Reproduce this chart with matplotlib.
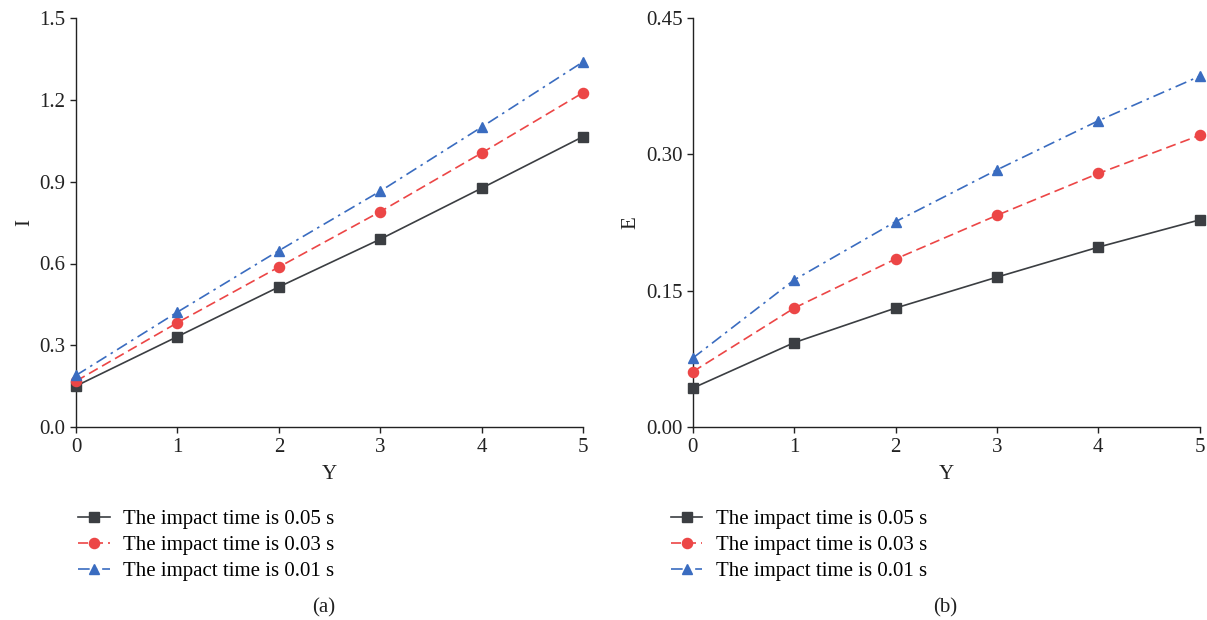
import matplotlib
matplotlib.use("Agg")
from matplotlib import pyplot as plt

plt.rcParams['font.family'] = ['Liberation Serif', 'DejaVu Serif']
plt.rcParams['mathtext.fontset'] = 'stix'

# Y values shared by both panels
y_vals = [0, 1, 2, 3, 4, 5]
labels = ['The impact time is 0.05 s',
          'The impact time is 0.03 s',
          'The impact time is 0.01 s']

# panel (a): I
i_005 = [0.151, 0.332, 0.514, 0.689, 0.876, 1.065]
i_003 = [0.169, 0.383, 0.587, 0.790, 1.005, 1.226]
i_001 = [0.190, 0.422, 0.647, 0.865, 1.100, 1.339]

# panel (b): E
e_005 = [0.043, 0.093, 0.131, 0.165, 0.198, 0.228]
e_003 = [0.061, 0.131, 0.185, 0.233, 0.279, 0.321]
e_001 = [0.076, 0.162, 0.226, 0.283, 0.337, 0.386]

colors = ['#3b3e42', '#ec4646', '#3a6cc0']
styles = ['-', (0, (6, 3)), (0, (7, 3, 1.5, 3))]
markers = ['s', 'o', '^']

fig = plt.figure(figsize=(12.07, 6.2), dpi=100)
ax1 = fig.add_axes([0.063, 0.311, 0.420, 0.660])
ax2 = fig.add_axes([0.574, 0.311, 0.420, 0.660])


def draw_panel(ax, series, ylabel, yticks, yfmt):
    for vals, c, ls, m, lab in zip(series, colors, styles, markers, labels):
        ax.plot(y_vals, vals, color=c, linestyle=ls, linewidth=1.2,
                marker=m, markersize=7.3, label=lab, clip_on=False, zorder=3)
    ax.set_xlim(0, 5)
    ax.set_ylim(yticks[0], yticks[-1])
    ax.set_xticks(y_vals)
    ax.set_yticks(yticks)
    ax.set_yticklabels([yfmt.format(t) for t in yticks])
    for s in ['top', 'right']:
        ax.spines[s].set_visible(False)
    for s in ['left', 'bottom']:
        ax.spines[s].set_linewidth(1.0)
        ax.spines[s].set_color('#222222')
    ax.tick_params(labelsize=15, length=4, width=1.0, colors='#222222',
                   labelcolor='#222222')
    ax.set_xlabel('Y', fontsize=15, color='#222222', labelpad=6)
    ax.set_ylabel(ylabel, fontsize=15, color='#222222', labelpad=4)


draw_panel(ax1, [i_005, i_003, i_001], 'I', [0.0, 0.3, 0.6, 0.9, 1.2, 1.5], '{:.1f}')
draw_panel(ax2, [e_005, e_003, e_001], 'E', [0.0, 0.15, 0.30, 0.45], '{:.2f}')

for ax, x0, tag, tx in [(ax1, 0.058, '(a)', 0.268), (ax2, 0.549, '(b)', 0.783)]:
    h, l = ax.get_legend_handles_labels()
    fig.legend(h, l, loc='upper left', bbox_to_anchor=(x0, 0.192),
               frameon=False, fontsize=15, handlelength=1.5,
               handletextpad=0.65, labelspacing=0.32, borderaxespad=0)
    fig.text(tx, 0.012, tag, fontsize=15, color='#222222', ha='center')

fig.savefig('out.png', dpi=100)
